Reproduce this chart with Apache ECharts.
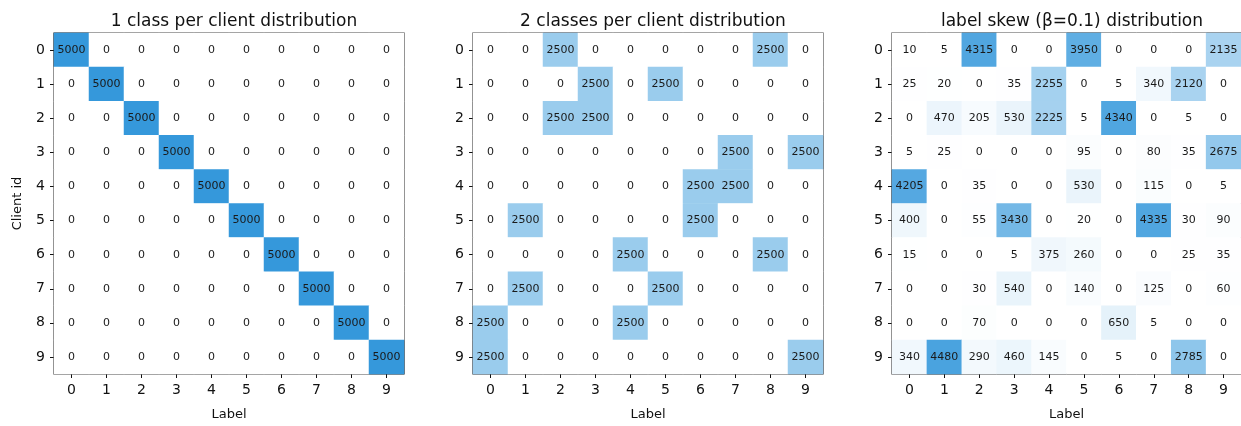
<!DOCTYPE html>
<html>
<head>
<meta charset="utf-8">
<script src="https://cdn.jsdelivr.net/npm/echarts@6/dist/echarts.min.js"></script>
<style>
  html, body { margin: 0; padding: 0; background: #fff; }
  #chart { width: 1241px; height: 426px; }
</style>
</head>
<body>
<div id="chart"></div>
<script>
// Tick labels shared by all three heatmaps
const labels = ['0', '1', '2', '3', '4', '5', '6', '7', '8', '9'];
const clients = ['0', '1', '2', '3', '4', '5', '6', '7', '8', '9'];

const titles = [
  '1 class per client distribution',
  '2 classes per client distribution',
  'label skew (\u03b2=0.1) distribution'
];

// Samples per (client row, label column)
const oneClass = [
  [5000, 0, 0, 0, 0, 0, 0, 0, 0, 0],
  [0, 5000, 0, 0, 0, 0, 0, 0, 0, 0],
  [0, 0, 5000, 0, 0, 0, 0, 0, 0, 0],
  [0, 0, 0, 5000, 0, 0, 0, 0, 0, 0],
  [0, 0, 0, 0, 5000, 0, 0, 0, 0, 0],
  [0, 0, 0, 0, 0, 5000, 0, 0, 0, 0],
  [0, 0, 0, 0, 0, 0, 5000, 0, 0, 0],
  [0, 0, 0, 0, 0, 0, 0, 5000, 0, 0],
  [0, 0, 0, 0, 0, 0, 0, 0, 5000, 0],
  [0, 0, 0, 0, 0, 0, 0, 0, 0, 5000]
];

const twoClasses = [
  [0, 0, 2500, 0, 0, 0, 0, 0, 2500, 0],
  [0, 0, 0, 2500, 0, 2500, 0, 0, 0, 0],
  [0, 0, 2500, 2500, 0, 0, 0, 0, 0, 0],
  [0, 0, 0, 0, 0, 0, 0, 2500, 0, 2500],
  [0, 0, 0, 0, 0, 0, 2500, 2500, 0, 0],
  [0, 2500, 0, 0, 0, 0, 2500, 0, 0, 0],
  [0, 0, 0, 0, 2500, 0, 0, 0, 2500, 0],
  [0, 2500, 0, 0, 0, 2500, 0, 0, 0, 0],
  [2500, 0, 0, 0, 2500, 0, 0, 0, 0, 0],
  [2500, 0, 0, 0, 0, 0, 0, 0, 0, 2500]
];

const labelSkew = [
  [10, 5, 4315, 0, 0, 3950, 0, 0, 0, 2135],
  [25, 20, 0, 35, 2255, 0, 5, 340, 2120, 0],
  [0, 470, 205, 530, 2225, 5, 4340, 0, 5, 0],
  [5, 25, 0, 0, 0, 95, 0, 80, 35, 2675],
  [4205, 0, 35, 0, 0, 530, 0, 115, 0, 5],
  [400, 0, 55, 3430, 0, 20, 0, 4335, 30, 90],
  [15, 0, 0, 5, 375, 260, 0, 0, 25, 35],
  [0, 0, 30, 540, 0, 140, 0, 125, 0, 60],
  [0, 0, 70, 0, 0, 0, 650, 5, 0, 0],
  [340, 4480, 290, 460, 145, 0, 5, 0, 2785, 0]
];

const matrices = [oneClass, twoClasses, labelSkew];
const FONT = 'DejaVu Sans';
const gridLefts = [54, 473, 892];
const SIZE = 350;

function toCells(m) {
  const out = [];
  m.forEach((row, r) => row.forEach((v, c) => out.push([c, r, v])));
  return out;
}

const chart = echarts.init(document.getElementById('chart'), null, { renderer: 'canvas' });

const option = {
  backgroundColor: '#ffffff',
  animation: false,
  textStyle: { fontFamily: FONT },
  title: titles.map((t, i) => ({
    text: t,
    left: gridLefts[i] + SIZE / 2,
    top: 8,
    textAlign: 'center',
    textStyle: { fontFamily: FONT, fontSize: 17, fontWeight: 'normal', color: '#111' }
  })),
  grid: gridLefts.map(l => ({
    left: l, top: 33, width: SIZE, height: SIZE,
    show: true, borderColor: '#111', borderWidth: 1.2, backgroundColor: 'transparent'
  })),
  visualMap: {
    show: false,
    min: 0,
    max: 5000,
    seriesIndex: [0, 1, 2],
    inRange: { color: ['#ffffff', '#3598db'] }
  },
  xAxis: gridLefts.map((_, i) => ({
    type: 'category',
    gridIndex: i,
    data: labels,
    name: 'Label',
    nameLocation: 'middle',
    nameGap: 34,
    nameTextStyle: { fontFamily: FONT, fontSize: 13, color: '#111' },
    axisLine: { show: false },
    axisTick: { show: true, alignWithLabel: true, length: 4, lineStyle: { color: '#111' } },
    axisLabel: { fontFamily: FONT, fontSize: 14, color: '#111', margin: 9 },
    splitLine: { show: false }
  })),
  yAxis: gridLefts.map((_, i) => ({
    type: 'category',
    gridIndex: i,
    data: clients,
    inverse: true,
    name: i === 0 ? 'Client id' : '',
    nameLocation: 'middle',
    nameGap: 30,
    nameRotate: 90,
    nameTextStyle: { fontFamily: FONT, fontSize: 13, color: '#111' },
    axisLine: { show: false },
    axisTick: { show: true, alignWithLabel: true, length: 4, lineStyle: { color: '#111' } },
    axisLabel: { fontFamily: FONT, fontSize: 14, color: '#111', margin: 9 },
    splitLine: { show: false }
  })),
  series: matrices.map((m, i) => ({
    type: 'heatmap',
    xAxisIndex: i,
    yAxisIndex: i,
    data: toCells(m),
    label: {
      show: true,
      fontFamily: FONT,
      fontSize: 11,
      color: '#1a1a1a'
    },
    itemStyle: { borderWidth: 0 },
    emphasis: { disabled: true }
  }))
};

chart.setOption(option);
</script>
</body>
</html>
